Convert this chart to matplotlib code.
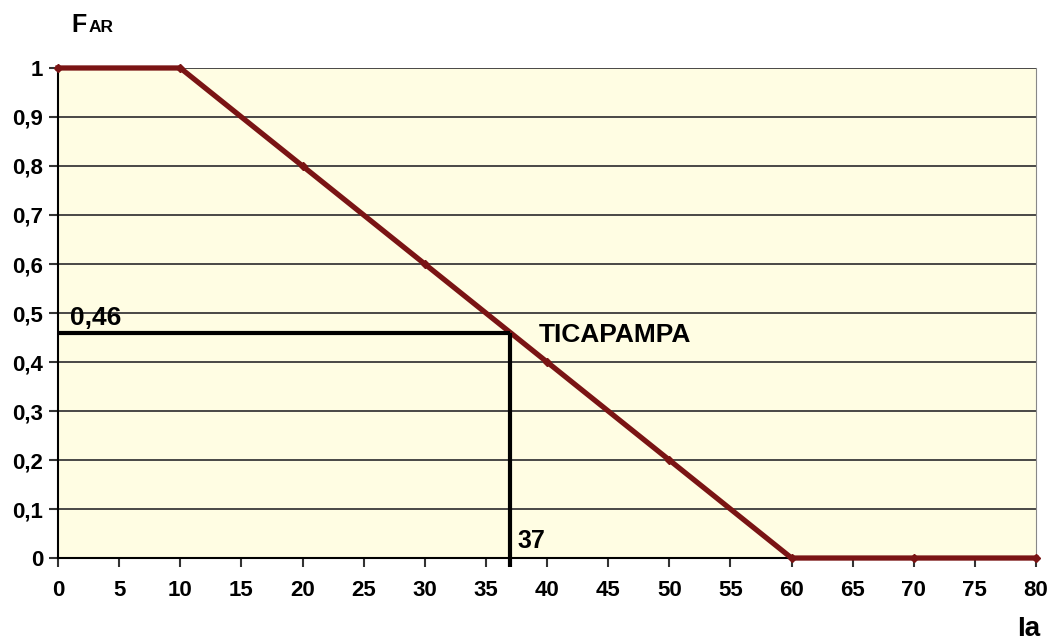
import matplotlib.pyplot as plt
import numpy as np

# curve FAR vs Ia
ia = [0, 10, 20, 30, 40, 50, 60, 70, 80]
far = [1, 1, 0.8, 0.6, 0.4, 0.2, 0, 0, 0]

x_ticks = list(range(0, 85, 5))
y_ticks = [0, 0.1, 0.2, 0.3, 0.4, 0.5, 0.6, 0.7, 0.8, 0.9, 1]
y_labels = ['0', '0,1', '0,2', '0,3', '0,4', '0,5', '0,6', '0,7', '0,8', '0,9', '1']

ia_point = 37
far_point = 0.46
site = 'TICAPAMPA'

plt.rcParams['font.family'] = ['Liberation Sans', 'DejaVu Sans']

fig = plt.figure(figsize=(10.53, 6.42), dpi=100)
ax = fig.add_axes([0.0551, 0.1308, 0.9288, 0.7633])
ax.set_facecolor('#fffde3')

for y in y_ticks:
    ax.axhline(y, color='#3a3a3a', lw=1.3, zorder=1)

ax.plot(ia, far, color='#7a1414', lw=3.8, marker='D', ms=4, zorder=3, clip_on=False)

# reading lines
ax.plot([0, ia_point], [far_point, far_point], color='black', lw=3, zorder=4, solid_capstyle='butt')
ax.plot([ia_point, ia_point], [far_point, -0.018], color='black', lw=3, zorder=4, clip_on=False, solid_capstyle='butt')

ax.text(1.0, 0.475, '0,46', fontsize=19, fontweight='bold', ha='left', va='baseline')
ax.text(39.3, 0.441, site, fontsize=19, fontweight='bold', ha='left', va='baseline')
ax.text(37.6, 0.02, str(ia_point), fontsize=18, fontweight='bold', ha='left', va='baseline')

ax.set_xlim(0, 80)
ax.set_ylim(0, 1)
ax.set_xticks(x_ticks)
ax.set_yticks(y_ticks)
ax.set_yticklabels(y_labels)
ax.tick_params(labelsize=16, width=1.5, length=6.5, color='#333333')
ax.tick_params(axis='x', pad=9)
ax.tick_params(axis='y', pad=4)
for lab in ax.get_xticklabels() + ax.get_yticklabels():
    lab.set_fontweight('bold')

ax.spines['top'].set_visible(False)
ax.spines['right'].set_color('#888888')
ax.spines['left'].set_linewidth(1.5)
ax.spines['bottom'].set_linewidth(1.5)

fig.text(0.068, 0.95, 'F', fontsize=18, fontweight='bold', ha='left', va='baseline')
fig.text(0.084, 0.95, 'AR', fontsize=12.5, fontweight='bold', ha='left', va='baseline')
fig.text(0.966, 0.01, 'Ia', fontsize=20, fontweight='bold', ha='left', va='baseline')

fig.savefig('out.png', dpi=100)
